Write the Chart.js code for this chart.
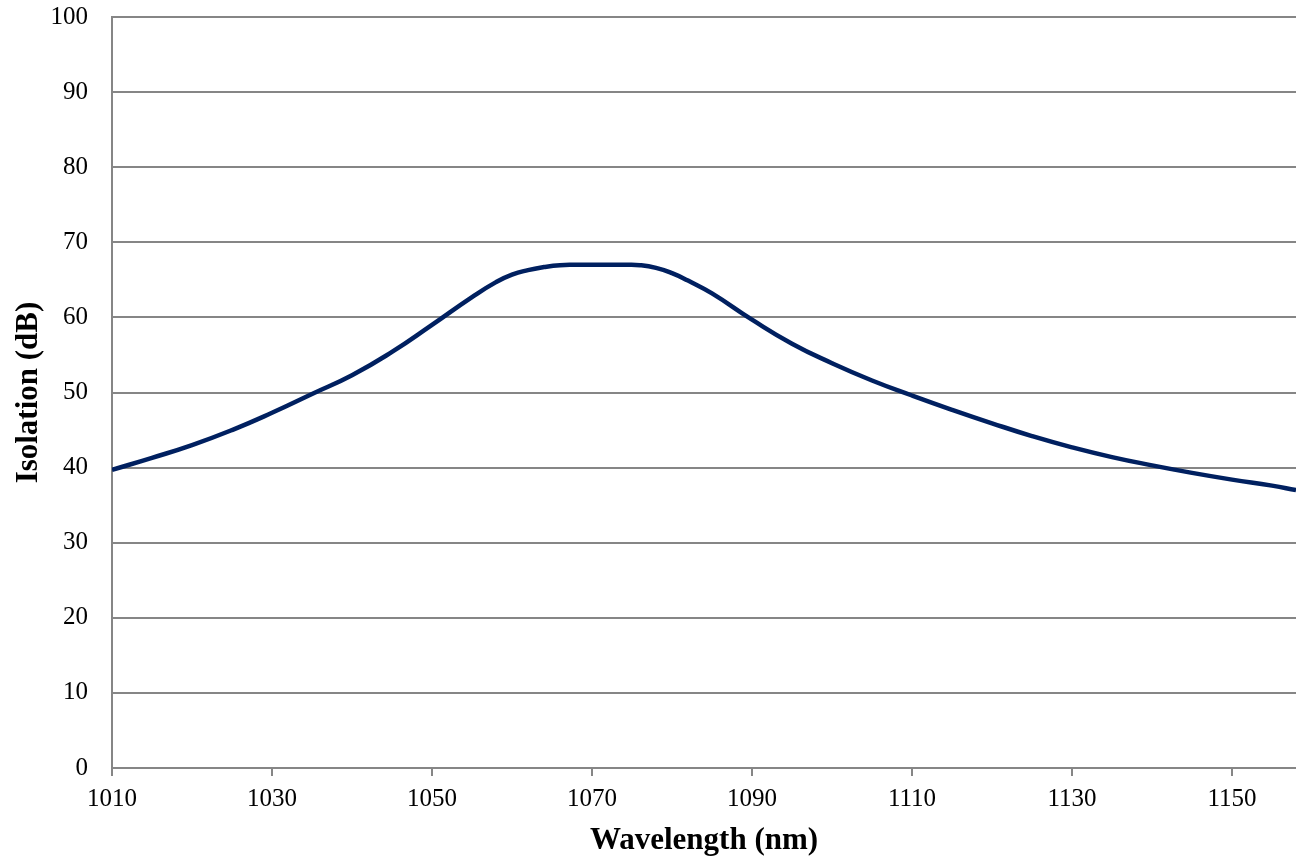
<!DOCTYPE html>
<html>
<head>
<meta charset="utf-8">
<script src="https://cdn.jsdelivr.net/npm/chart.js@4/dist/chart.umd.min.js"></script>
<style>
  html, body { margin: 0; padding: 0; background: #fff; }
  #wrap { width: 1296px; height: 862px; }
</style>
</head>
<body>
<div id="wrap"><canvas id="chart"></canvas></div>
<script>
// Isolation vs wavelength
const wavelengths = [1010, 1015, 1020, 1025, 1030, 1035, 1040, 1045, 1050, 1055, 1058, 1060, 1062, 1064, 1066, 1068, 1070, 1072, 1074, 1076, 1078, 1080, 1082, 1085, 1090, 1095, 1100, 1105, 1110, 1115, 1120, 1125, 1130, 1135, 1140, 1145, 1150, 1155, 1158];
const isolation = [39.7, 41.3, 43.0, 45.0, 47.3, 49.8, 52.3, 55.4, 59.0, 62.7, 64.7, 65.7, 66.3, 66.7, 66.95, 67.0, 67.0, 67.0, 67.0, 66.95, 66.6, 65.9, 64.9, 63.2, 59.7, 56.5, 53.9, 51.6, 49.6, 47.7, 45.9, 44.2, 42.7, 41.4, 40.3, 39.3, 38.4, 37.6, 37.0];
const xTicks = [1010, 1030, 1050, 1070, 1090, 1110, 1130, 1150];
const yTicks = [0, 10, 20, 30, 40, 50, 60, 70, 80, 90, 100];

const points = wavelengths.map((w, i) => ({ x: w, y: isolation[i] }));
const serif = '"Liberation Serif", "Times New Roman", serif';

new Chart(document.getElementById('chart'), {
    type: 'scatter',
    data: {
        datasets: [{
            data: points,
            showLine: true,
            borderColor: '#002060',
            borderWidth: 4.5,
            pointRadius: 0,
            tension: 0.5
        }]
    },
    options: {
        responsive: true,
        maintainAspectRatio: false,
        animation: false,
        layout: { padding: { top: 17, right: 0, left: 0, bottom: 0 } },
        plugins: { legend: { display: false }, tooltip: { enabled: false } },
        scales: {
            x: {
                type: 'linear',
                min: 1010,
                max: 1158,
                afterBuildTicks: axis => { axis.ticks = xTicks.map(v => ({ value: v })); },
                afterFit: axis => { axis.height = 94; axis.paddingRight = 0; },
                border: { color: '#868686', width: 2 },
                grid: { drawOnChartArea: false, color: '#868686', lineWidth: 2, tickLength: 8 },
                ticks: {
                    color: '#000',
                    font: { family: serif, size: 25 },
                    padding: 8,
                    maxRotation: 0,
                    callback: v => String(v)
                },
                title: {
                    display: true,
                    text: 'Wavelength (nm)',
                    color: '#000',
                    font: { family: serif, size: 31, weight: 'bold' },
                    padding: { top: 0, bottom: 2 }
                }
            },
            y: {
                min: 0,
                max: 100,
                afterBuildTicks: axis => { axis.ticks = yTicks.map(v => ({ value: v })); },
                afterFit: axis => { axis.width = 112; axis.paddingTop = 0; axis.paddingBottom = 0; },
                border: { color: '#868686', width: 2 },
                grid: { color: '#868686', lineWidth: 2, drawTicks: false },
                ticks: { color: '#000', font: { family: serif, size: 25 }, padding: 24 },
                title: {
                    display: true,
                    text: 'Isolation (dB)',
                    color: '#000',
                    font: { family: serif, size: 31, weight: 'bold' },
                    padding: { top: 10, bottom: 0 }
                }
            }
        }
    }
});
</script>
</body>
</html>
